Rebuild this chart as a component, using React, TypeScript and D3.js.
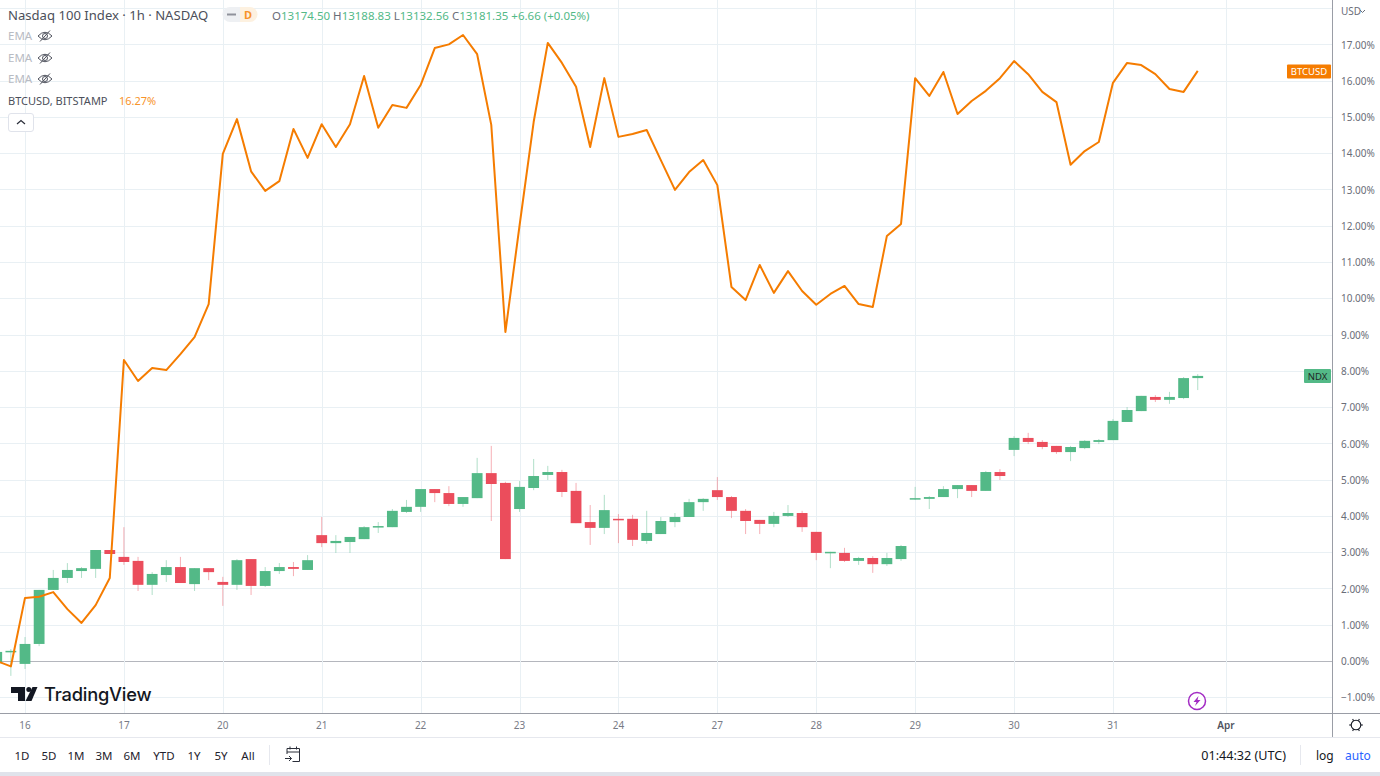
import { useEffect, useRef } from "react"
import * as d3 from "d3"

// Hourly bars, the first value belongs to bar index -2 (index 0 sits on the "16" tick)
const firstBar = -2

const ndxOpen = [-0.06, 0.25, -0.08, 0.47, 1.96, 2.29, 2.48, 2.54, 3.06, 2.87, 2.76, 2.1, 2.37, 2.59, 2.12, 2.56, 2.18, 2.1, 2.81, 2.07, 2.48, 2.59, 2.51, 3.47, 3.25, 3.28, 3.36, 3.69, 3.69, 4.11, 4.25, 4.74, 4.63, 4.33, 4.49, 5.18, 4.91, 4.19, 4.77, 5.13, 5.21, 4.69, 3.83, 3.67, 3.92, 3.92, 3.31, 3.5, 3.83, 3.97, 4.38, 4.71, 4.52, 4.14, 3.89, 3.78, 4.0, 4.08, 3.56, 2.98, 2.98, 2.76, 2.84, 2.67, 2.81, 4.47, 4.47, 4.52, 4.74, 4.85, 4.69, 5.21, 5.82, 6.15, 6.04, 5.93, 5.76, 5.87, 6.04, 6.09, 6.59, 6.89, 7.28, 7.2, 7.25, 7.8]
const ndxHigh = [0.25, 0.33, 0.66, 1.96, 2.51, 2.7, 2.59, 3.06, 3.06, 3.69, 2.87, 2.45, 2.78, 2.87, 2.56, 2.56, 2.32, 2.81, 2.81, 2.59, 2.7, 2.73, 2.92, 3.97, 3.47, 3.42, 3.72, 3.83, 4.19, 4.44, 4.74, 4.74, 4.82, 4.52, 5.6, 5.93, 4.94, 4.96, 5.57, 5.38, 5.27, 4.91, 4.3, 4.58, 4.05, 4.03, 4.14, 3.97, 4.08, 4.47, 4.49, 5.07, 4.55, 4.19, 3.89, 4.11, 4.3, 4.14, 3.56, 3.01, 3.12, 2.87, 2.89, 2.98, 3.2, 4.8, 4.55, 4.82, 4.85, 4.85, 5.24, 5.29, 6.2, 6.29, 6.09, 5.93, 5.93, 6.09, 6.12, 6.67, 7.0, 7.31, 7.33, 7.42, 7.83, 7.91]
const ndxLow = [-0.06, -0.41, -0.22, 0.41, 1.96, 2.15, 2.29, 2.29, 2.95, 2.65, 1.93, 1.82, 2.18, 2.15, 1.93, 2.23, 1.52, 1.96, 1.82, 2.04, 2.4, 2.34, 2.51, 3.14, 2.98, 2.98, 3.36, 3.53, 3.69, 4.08, 4.11, 4.38, 4.27, 4.25, 4.49, 3.86, 2.81, 4.11, 4.71, 4.99, 4.52, 3.8, 3.2, 3.5, 3.25, 3.17, 3.23, 3.5, 3.69, 3.97, 4.14, 4.44, 3.94, 3.5, 3.5, 3.69, 3.97, 3.56, 2.78, 2.56, 2.73, 2.65, 2.43, 2.62, 2.76, 4.44, 4.19, 4.52, 4.49, 4.52, 4.69, 4.99, 5.65, 5.98, 5.84, 5.71, 5.51, 5.84, 5.98, 6.09, 6.59, 6.89, 7.14, 7.09, 7.22, 7.47]
const ndxClose = [0.25, 0.28, 0.47, 1.96, 2.29, 2.51, 2.56, 3.06, 2.95, 2.73, 2.1, 2.4, 2.59, 2.15, 2.56, 2.45, 2.1, 2.78, 2.07, 2.48, 2.59, 2.54, 2.78, 3.25, 3.31, 3.42, 3.69, 3.72, 4.14, 4.25, 4.74, 4.63, 4.33, 4.52, 5.18, 4.88, 2.81, 4.8, 5.1, 5.21, 4.66, 3.8, 3.67, 4.16, 3.89, 3.34, 3.53, 3.86, 3.97, 4.38, 4.47, 4.52, 4.14, 3.86, 3.78, 4.0, 4.08, 3.69, 2.98, 3.01, 2.76, 2.84, 2.67, 2.84, 3.17, 4.49, 4.52, 4.74, 4.85, 4.69, 5.21, 5.1, 6.15, 6.04, 5.9, 5.76, 5.9, 6.07, 6.09, 6.62, 6.92, 7.31, 7.2, 7.28, 7.8, 7.86]

const btcPct = [0.0, -0.15, 1.74, 1.77, 1.9, 1.43, 1.05, 1.54, 2.29, 8.3, 7.72, 8.08, 8.02, 8.46, 8.93, 9.84, 13.98, 14.94, 13.5, 12.96, 13.23, 14.67, 13.87, 14.8, 14.17, 14.8, 16.13, 14.7, 15.33, 15.25, 15.88, 16.9, 17.0, 17.26, 16.73, 14.78, 9.07, 12.0, 14.86, 17.04, 16.49, 15.83, 14.17, 16.07, 14.45, 14.53, 14.64, 13.81, 12.99, 13.48, 13.81, 13.12, 10.31, 9.95, 10.92, 10.15, 10.75, 10.2, 9.82, 10.12, 10.34, 9.84, 9.76, 11.72, 12.05, 16.07, 15.58, 16.24, 15.08, 15.44, 15.72, 16.07, 16.54, 16.18, 15.69, 15.41, 13.68, 14.06, 14.31, 15.94, 16.49, 16.43, 16.18, 15.77, 15.69, 16.27]

const dayTickBars = [0, 7, 14, 21, 28, 35, 42, 49, 56, 63, 70, 77, 85]
const dayTickLabels = ["16", "17", "20", "21", "22", "23", "24", "27", "28", "29", "30", "31", "Apr"]
const pctTicks = d3.range(-1, 18)
const rangeButtons = ["1D", "5D", "1M", "3M", "6M", "YTD", "1Y", "5Y", "All"]
const rangeX = [22, 49, 76, 104, 132, 164, 194, 221, 248]
const ohlcLabels = ["O", "H", "L", "C"]
const ohlcValues = ["13174.50", "13188.83", "13132.56", "13181.35"]

const GREEN = "#53b987"
const RED = "#eb4d5c"
const ORANGE = "#f57c00"
const GRID = "#e9f0f4"
const AXIS = "#9a9da6"
const FONT = "'Noto Sans', 'Open Sans', sans-serif"

const App = () => {
  const svgRef = useRef<SVGSVGElement>(null)

  useEffect(() => {
    if (!svgRef.current) return
    const svg = d3.select(svgRef.current)
    svg.selectAll("*").remove()
    svg.style("font-family", FONT)

    const plotRight = 1332
    const plotBottom = 713

    const x = d3.scaleLinear().domain([0, 85]).range([25, 1226])
    const y = d3.scaleLinear().domain([0, 17]).range([661, 44.4])

    svg.append("clipPath").attr("id", "plot").append("rect")
      .attr("width", plotRight).attr("height", plotBottom)

    // grid
    svg.append("g").selectAll("line").data(pctTicks.concat([18])).join("line")
      .attr("x1", 0).attr("x2", plotRight)
      .attr("y1", (d) => Math.round(y(d)) + 0.5).attr("y2", (d) => Math.round(y(d)) + 0.5)
      .attr("stroke", (d) => (d === 0 ? "#b4b6bd" : GRID))
    svg.append("g").selectAll("line").data(dayTickBars).join("line")
      .attr("x1", (d) => Math.round(x(d)) + 0.5).attr("x2", (d) => Math.round(x(d)) + 0.5)
      .attr("y1", 0).attr("y2", plotBottom)
      .attr("stroke", GRID)

    // candles
    const bars = ndxOpen.map((open, i) => ({
      bar: firstBar + i, open, high: ndxHigh[i], low: ndxLow[i], close: ndxClose[i],
    }))
    const candle = svg.append("g").attr("clip-path", "url(#plot)")
      .selectAll("g").data(bars).join("g")
    const barColor = (d: typeof bars[number]) => (d.close >= d.open ? GREEN : RED)
    candle.append("line")
      .attr("x1", (d) => x(d.bar)).attr("x2", (d) => x(d.bar))
      .attr("y1", (d) => y(d.high)).attr("y2", (d) => y(d.low))
      .attr("stroke", barColor).attr("stroke-opacity", 0.45)
    candle.append("rect")
      .attr("x", (d) => x(d.bar) - 5.4).attr("width", 10.8)
      .attr("y", (d) => y(Math.max(d.open, d.close)))
      .attr("height", (d) => Math.max(1.5, Math.abs(y(d.open) - y(d.close))))
      .attr("fill", barColor)

    // BTC line
    const line = d3.line<number>().x((_, i) => x(firstBar + i)).y((d) => y(d))
    svg.append("path").attr("clip-path", "url(#plot)")
      .attr("d", line(btcPct)).attr("fill", "none")
      .attr("stroke", ORANGE).attr("stroke-width", 2).attr("stroke-linejoin", "round")

    // right axis
    svg.append("line").attr("x1", plotRight + 0.5).attr("x2", plotRight + 0.5).attr("y1", 0).attr("y2", 737).attr("stroke", AXIS)
    svg.append("line").attr("x1", 0).attr("x2", 1380).attr("y1", plotBottom + 0.5).attr("y2", plotBottom + 0.5).attr("stroke", AXIS)
    svg.append("g").selectAll("text").data(pctTicks).join("text")
      .attr("x", 1341).attr("y", (d) => y(d) + 4.2)
      .attr("font-size", 10).attr("fill", "#6a6d78")
      .text((d) => `${d < 0 ? "\u2212" : ""}${Math.abs(d).toFixed(2)}%`)
    svg.append("text").attr("x", 1341).attr("y", 15).attr("font-size", 10).attr("fill", "#6a6d78").text("USD")
    svg.append("path").attr("d", "M1360 10l2.5 2.5 2.5-2.5").attr("fill", "none").attr("stroke", "#6a6d78")

    // last value tags
    const tags = [
      { label: "BTCUSD", value: btcPct[btcPct.length - 1], color: ORANGE, w: 44 },
      { label: "NDX", value: ndxClose[ndxClose.length - 1], color: GREEN, w: 27 },
    ]
    const tag = svg.append("g").selectAll("g").data(tags).join("g")
    tag.append("rect")
      .attr("x", (d) => plotRight - 1 - d.w).attr("width", (d) => d.w).attr("height", 14)
      .attr("y", (d) => y(d.value) - 7 - (d.label === "BTCUSD" ? -0.5 : 0)).attr("rx", 1).attr("fill", (d) => d.color)
    tag.append("text")
      .attr("x", (d) => plotRight - 1 - d.w / 2).attr("y", (d) => y(d.value) + 4)
      .attr("text-anchor", "middle").attr("font-size", 9.5).attr("fill", (d) => (d.label === "NDX" ? "#1f2a26" : "#fff"))
      .text((d) => d.label)

    // time axis
    svg.append("g").selectAll("text").data(dayTickBars).join("text")
      .attr("x", (d) => x(d)).attr("y", 728.5).attr("text-anchor", "middle")
      .attr("font-size", 10).attr("fill", (_, i) => (i === 12 ? "#50535e" : "#787b86"))
      .attr("font-weight", (_, i) => (i === 12 ? 600 : 400))
      .text((_, i) => dayTickLabels[i])

    // header legend
    const legend = svg.append("g")
    legend.append("text").attr("x", 8).attr("y", 20).attr("font-size", 13.1).attr("fill", "#4c4f5a").text("Nasdaq 100 Index \u00b7 1h \u00b7 NASDAQ")
    legend.append("path").attr("d", "M230 7h10v15h-10a7.5 7.5 0 0 1 0-15z").attr("fill", "#eef0f3")
    legend.append("path").attr("d", "M240 7h10a7.5 7.5 0 0 1 0 15h-10z").attr("fill", "#fdf1e0")
    legend.append("rect").attr("x", 227).attr("y", 13.5).attr("width", 9).attr("height", 2).attr("fill", "#8f929b")
    legend.append("text").attr("x", 248).attr("y", 19).attr("text-anchor", "middle").attr("font-size", 11).attr("font-weight", 700).attr("fill", "#f7932a").text("D")

    const ohlc = legend.append("text").attr("x", 272).attr("y", 20).attr("font-size", 11.5)
    ohlcLabels.forEach((l, i) => {
      ohlc.append("tspan").attr("fill", "#6a6d78").text(l)
      ohlc.append("tspan").attr("fill", GREEN).attr("dx", 0).text(ohlcValues[i] + " ")
    })
    ohlc.append("tspan").attr("fill", GREEN).text("+6.66 (+0.05%)")

    const emaY = [40, 62, 83]
    emaY.forEach((ty) => {
      legend.append("text").attr("x", 8).attr("y", ty).attr("font-size", 11.5).attr("fill", "#b8bbc3").text("EMA")
      const eye = legend.append("g").attr("transform", `translate(45,${ty - 4})`).attr("fill", "none").attr("stroke", "#50535e")
      eye.append("path").attr("d", "M-7 0q7-7.5 14 0q-7 7.5-14 0z")
      eye.append("circle").attr("r", 2.5)
      eye.append("path").attr("d", "M-5 5.5L5-5.5")
    })
    legend.append("text").attr("x", 8).attr("y", 105).attr("font-size", 11).attr("fill", "#4c4f5a").text("BTCUSD, BITSTAMP")
    legend.append("text").attr("x", 119).attr("y", 105).attr("font-size", 11).attr("fill", "#f7932a").text("16.27%")
    legend.append("rect").attr("x", 8.5).attr("y", 113.5).attr("width", 25).attr("height", 18).attr("rx", 2.5).attr("fill", "#fff").attr("stroke", "#e0e3eb")
    legend.append("path").attr("d", "M17 124l4-3.5 4 3.5").attr("fill", "none").attr("stroke", "#2a2e39").attr("stroke-width", 1.2)

    // watermark logo
    const logo = svg.append("g").attr("fill", "#131722")
    logo.append("path").attr("d", "M11 687h14v14h-7v-8h-7z")
    logo.append("circle").attr("cx", 28.8).attr("cy", 689.5).attr("r", 2.5)
    logo.append("path").attr("d", "M32.5 687h5l-6 14h-6z")
    logo.append("text").attr("x", 44).attr("y", 700.5).attr("font-size", 18.3).attr("font-weight", 500)
      .attr("font-family", "Inter, sans-serif").attr("letter-spacing", -0.2).text("TradingView")

    // lightning badge
    const bolt = svg.append("g").attr("transform", "translate(1197,701)")
    bolt.append("circle").attr("r", 8.5).attr("fill", "#fff").attr("stroke", "#a32cc4").attr("stroke-width", 1.5)
    bolt.append("path").attr("d", "M1.5-5L-3.5 1h3l-1.5 4L3.5-1h-3z").attr("fill", "#a32cc4")

    // gear
    const gear = svg.append("g").attr("transform", "translate(1356,725)").attr("fill", "none").attr("stroke", "#131722").attr("stroke-width", 1.1)
    gear.append("circle").attr("r", 4.8)
    d3.range(6).forEach((i) => {
      const a = (i * Math.PI) / 3
      gear.append("line").attr("x1", 4.8 * Math.cos(a)).attr("y1", 4.8 * Math.sin(a)).attr("x2", 6.8 * Math.cos(a)).attr("y2", 6.8 * Math.sin(a))
    })

    // bottom toolbar
    svg.append("line").attr("x1", 0).attr("x2", 1380).attr("y1", 737.5).attr("y2", 737.5).attr("stroke", "#e6e8ee")
    svg.append("rect").attr("x", 0).attr("y", 772).attr("width", 1380).attr("height", 4).attr("fill", "#e0e3eb")
    svg.append("g").selectAll("text").data(rangeButtons).join("text")
      .attr("x", (_, i) => rangeX[i]).attr("y", 759.5).attr("text-anchor", "middle")
      .attr("font-size", 11.5).attr("fill", "#1e222d").text((d) => d)
    svg.append("line").attr("x1", 269.5).attr("x2", 269.5).attr("y1", 745).attr("y2", 765).attr("stroke", "#e6e8ee")
    svg.append("path")
      .attr("d", "M287 754v-5.5h12.5v13h-7M287 752h12.5M290 746.5v3M296.5 746.5v3M285 758.5h6.5m-2.5-2.5l2.5 2.5-2.5 2.5")
      .attr("fill", "none").attr("stroke", "#2a2e39")
    svg.append("text").attr("x", 1286).attr("y", 759.5).attr("text-anchor", "end").attr("font-size", 12.6).attr("fill", "#131722").text("01:44:32 (UTC)")
    svg.append("line").attr("x1", 1300.5).attr("x2", 1300.5).attr("y1", 745).attr("y2", 765).attr("stroke", "#e6e8ee")
    svg.append("text").attr("x", 1316).attr("y", 759.5).attr("font-size", 12).attr("fill", "#131722").text("log")
    svg.append("text").attr("x", 1345).attr("y", 759.5).attr("font-size", 12).attr("fill", "#2962ff").text("auto")
  }, [])

  return (
    <svg
      ref={svgRef}
      width={1380}
      height={776}
      style={{ position: "fixed", left: 0, top: 0, background: "#fff", display: "block" }}
    />
  )
}

export default App
